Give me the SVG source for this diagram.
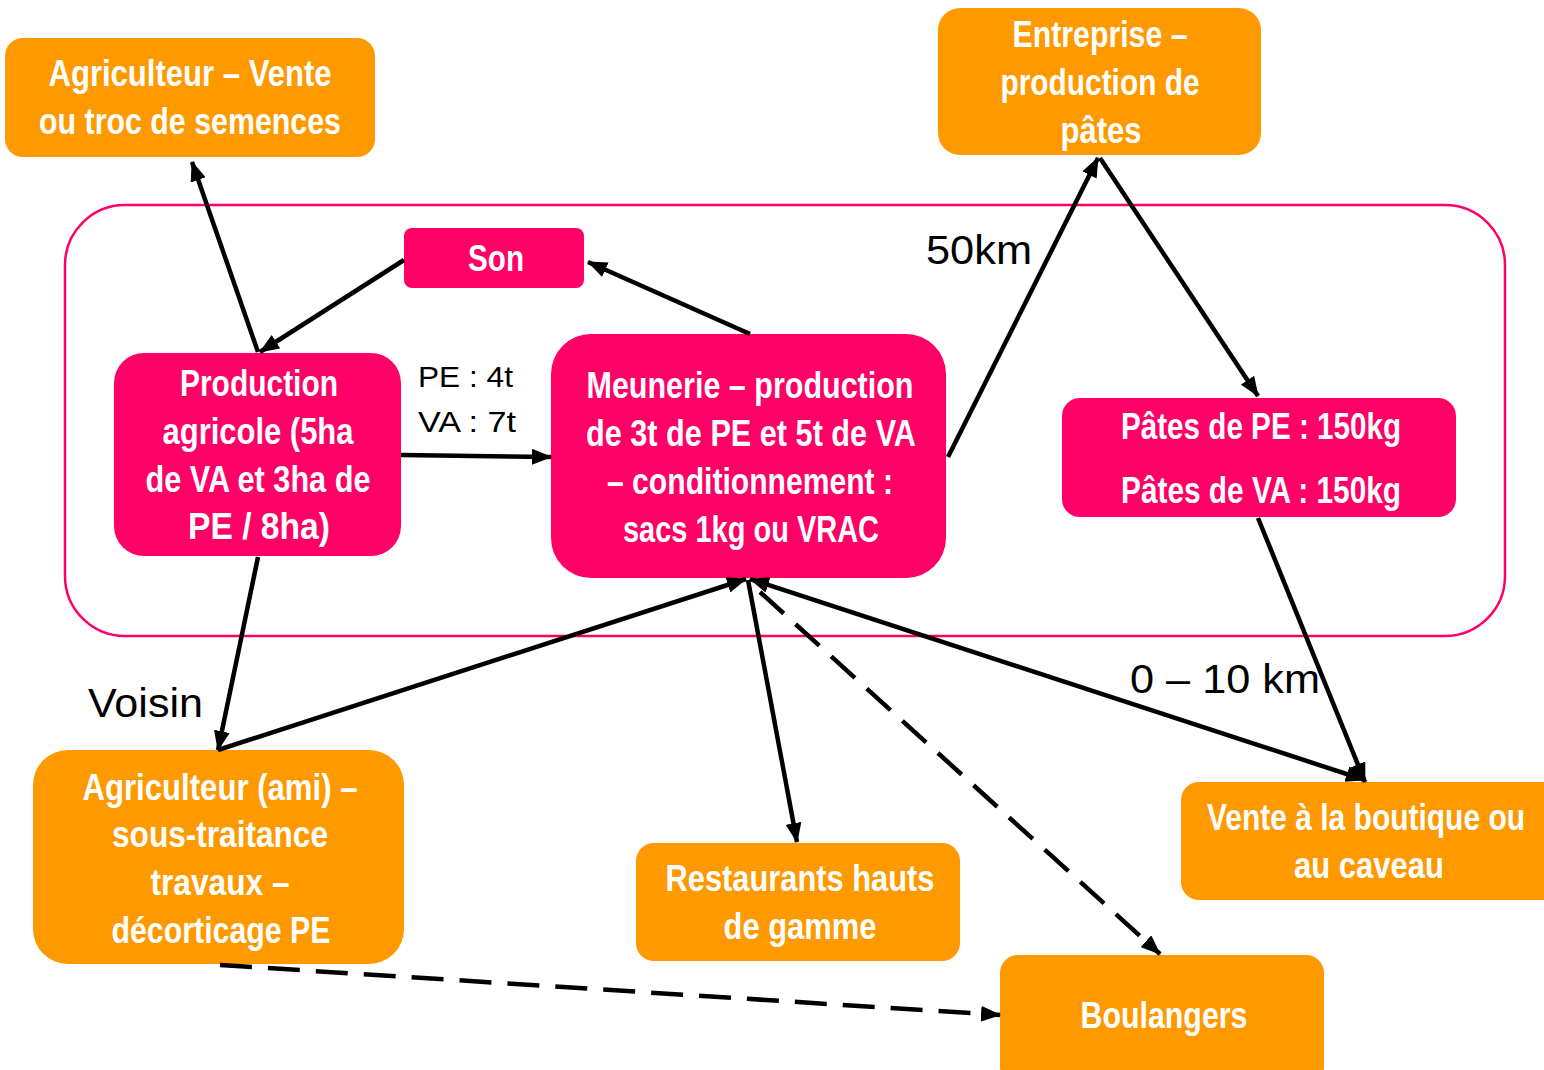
<svg xmlns="http://www.w3.org/2000/svg" width="1544" height="1070" viewBox="0 0 1544 1070">
<style>
.o{fill:#FF9900}
.p{fill:#FF0066}
.t{font-family:"Liberation Sans",Arial,sans-serif;font-weight:bold;font-size:36px;fill:#fff;text-anchor:middle}
.l{font-family:"Liberation Sans",Arial,sans-serif;fill:#000}
.c{stroke:#000;stroke-width:4.5;fill:none}
.d{stroke-dasharray:32 16}
</style>
<defs>
<marker id="a" viewBox="0 0 20 16" refX="19" refY="8" markerWidth="20" markerHeight="16" markerUnits="userSpaceOnUse" orient="auto-start-reverse">
<path d="M0,0 L20,8 L0,16 z" fill="#000"/>
</marker>
</defs>
<rect x="65" y="205" width="1440" height="431" rx="60" fill="none" stroke="#FF0066" stroke-width="2.5"/>
<g id="n1"><rect class="o" x="5" y="38" width="370" height="119" rx="18"/>
<text class="t" x="190" y="86" textLength="283" lengthAdjust="spacingAndGlyphs">Agriculteur – Vente</text>
<text class="t" x="190" y="134" textLength="302" lengthAdjust="spacingAndGlyphs">ou troc de semences</text></g>
<g id="n2"><rect class="o" x="938" y="8" width="323" height="147" rx="22"/>
<text class="t" x="1100" y="47" textLength="175" lengthAdjust="spacingAndGlyphs">Entreprise –</text>
<text class="t" x="1100" y="95" textLength="199" lengthAdjust="spacingAndGlyphs">production de</text>
<text class="t" x="1101" y="143" textLength="81" lengthAdjust="spacingAndGlyphs">pâtes</text></g>
<g id="n3"><rect class="p" x="404" y="228" width="180" height="60" rx="8"/>
<text class="t" x="496" y="271" textLength="56" lengthAdjust="spacingAndGlyphs">Son</text></g>
<g id="n4"><rect class="p" x="114" y="353" width="287" height="203" rx="30"/>
<text class="t" x="259" y="396" textLength="158" lengthAdjust="spacingAndGlyphs">Production</text>
<text class="t" x="258" y="444" textLength="191" lengthAdjust="spacingAndGlyphs">agricole (5ha</text>
<text class="t" x="258" y="492" textLength="225" lengthAdjust="spacingAndGlyphs">de VA et 3ha de</text>
<text class="t" x="259" y="539" textLength="142" lengthAdjust="spacingAndGlyphs">PE  / 8ha)</text></g>
<g id="n5"><rect class="p" x="551" y="334" width="395" height="244" rx="40"/>
<text class="t" x="750" y="398" textLength="327" lengthAdjust="spacingAndGlyphs">Meunerie – production</text>
<text class="t" x="751" y="446" textLength="330" lengthAdjust="spacingAndGlyphs">de 3t de PE et 5t de VA</text>
<text class="t" x="750" y="494" textLength="286" lengthAdjust="spacingAndGlyphs">– conditionnement :</text>
<text class="t" x="751" y="542" textLength="256" lengthAdjust="spacingAndGlyphs">sacs 1kg ou VRAC</text></g>
<g id="n6"><rect class="p" x="1062" y="398" width="394" height="119" rx="18"/>
<text class="t" x="1261" y="439" textLength="280" lengthAdjust="spacingAndGlyphs">Pâtes de PE : 150kg</text>
<text class="t" x="1261" y="503" textLength="280" lengthAdjust="spacingAndGlyphs">Pâtes de VA : 150kg</text></g>
<g id="n7"><rect class="o" x="33" y="750" width="371" height="214" rx="35"/>
<text class="t" x="220" y="800" textLength="275" lengthAdjust="spacingAndGlyphs">Agriculteur (ami) –</text>
<text class="t" x="220" y="847" textLength="216" lengthAdjust="spacingAndGlyphs">sous-traitance</text>
<text class="t" x="220" y="895" textLength="139" lengthAdjust="spacingAndGlyphs">travaux –</text>
<text class="t" x="221" y="943" textLength="219" lengthAdjust="spacingAndGlyphs">décorticage PE</text></g>
<g id="n8"><rect class="o" x="636" y="843" width="324" height="118" rx="18"/>
<text class="t" x="800" y="891" textLength="269" lengthAdjust="spacingAndGlyphs">Restaurants hauts</text>
<text class="t" x="800" y="939" textLength="153" lengthAdjust="spacingAndGlyphs">de gamme</text></g>
<g id="n9"><rect class="o" x="1181" y="782" width="380" height="118" rx="18"/>
<text class="t" x="1366" y="830" textLength="318" lengthAdjust="spacingAndGlyphs">Vente à la boutique ou</text>
<text class="t" x="1369" y="878" textLength="150" lengthAdjust="spacingAndGlyphs">au caveau</text></g>
<g id="n10"><rect class="o" x="1000" y="955" width="324" height="130" rx="18"/>
<text class="t" x="1164" y="1028" textLength="167" lengthAdjust="spacingAndGlyphs">Boulangers</text></g>
<g id="labels">
<text class="l" x="926" y="264" font-size="40" textLength="106" lengthAdjust="spacingAndGlyphs">50km</text>
<text class="l" x="88" y="717" font-size="40" textLength="115" lengthAdjust="spacingAndGlyphs">Voisin</text>
<text class="l" x="1130" y="693" font-size="40" textLength="190" lengthAdjust="spacingAndGlyphs">0 – 10 km</text>
<text class="l" x="418" y="387" font-size="30" textLength="95" lengthAdjust="spacingAndGlyphs">PE : 4t</text>
<text class="l" x="418" y="432" font-size="30" textLength="98" lengthAdjust="spacingAndGlyphs">VA : 7t</text>
</g>
<g id="connectors">
<line class="c" x1="258" y1="352" x2="192" y2="162" marker-end="url(#a)"/>
<line class="c" x1="404" y1="260" x2="260" y2="352" marker-end="url(#a)"/>
<line class="c" x1="750" y1="334" x2="588" y2="262" marker-end="url(#a)"/>
<line class="c" x1="401" y1="455" x2="551" y2="457" marker-end="url(#a)"/>
<line class="c" x1="948" y1="457" x2="1098" y2="158" marker-end="url(#a)"/>
<line class="c" x1="1100" y1="158" x2="1258" y2="396" marker-end="url(#a)"/>
<line class="c" x1="1258" y1="518" x2="1365" y2="782" marker-end="url(#a)"/>
<line class="c" x1="258" y1="557" x2="218" y2="750" marker-end="url(#a)"/>
<line class="c" x1="218" y1="750" x2="746" y2="579" marker-end="url(#a)"/>
<line class="c" x1="748" y1="580" x2="797" y2="842" marker-end="url(#a)"/>
<line class="c" x1="750" y1="579" x2="1365" y2="780" marker-start="url(#a)" marker-end="url(#a)"/>
<line class="c d" x1="760" y1="592" x2="1160" y2="954" marker-end="url(#a)"/>
<line class="c d" x1="220" y1="965" x2="1000" y2="1015" marker-end="url(#a)"/>
</g>
</svg>
